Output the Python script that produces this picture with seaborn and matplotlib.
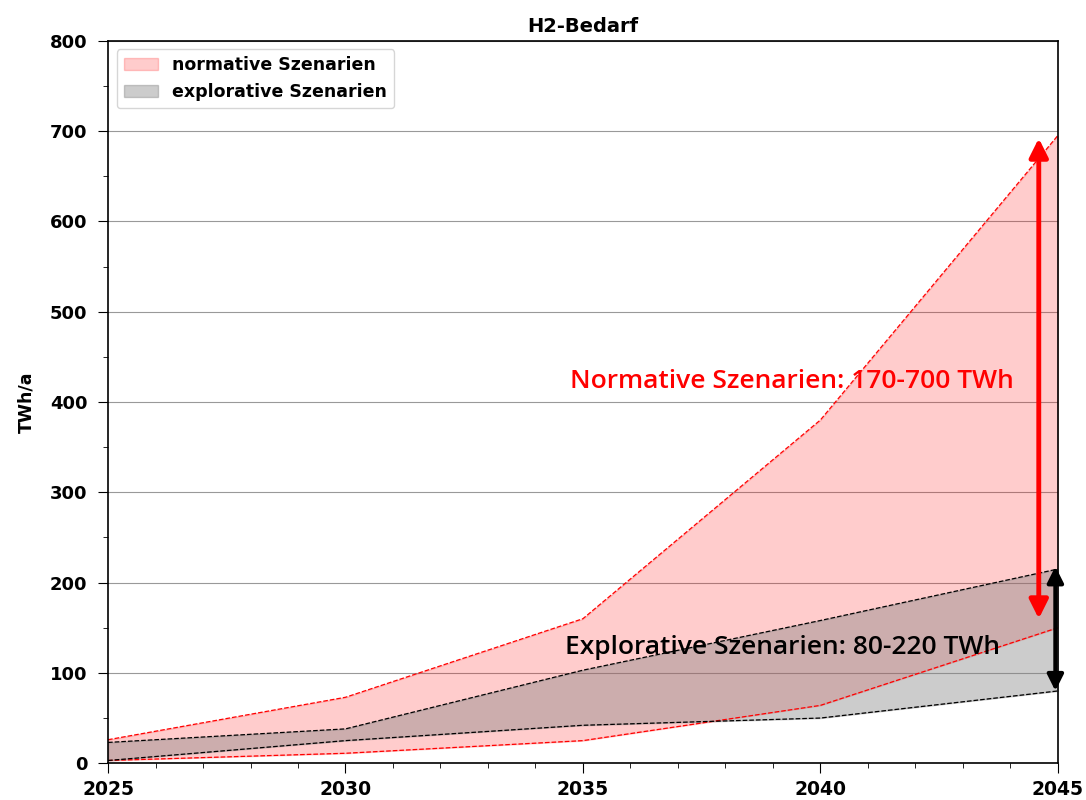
import seaborn as sns
import matplotlib.pyplot as plt
import pandas as pd

# Daten
# ------------------------------------------------------------------------------
jahre = [2025, 2030, 2035, 2040, 2045]
normativ_min = [3, 11, 25, 64, 150]
normativ_max = [26, 73, 160, 380, 695]
explorativ_min = [3, 25, 42, 50, 80]
explorativ_max = [23, 38, 103, 158, 215]

df = pd.DataFrame({"jahr": jahre,
                   "norm_min": normativ_min, "norm_max": normativ_max,
                   "expl_min": explorativ_min, "expl_max": explorativ_max})

sns.set_style("ticks")
plt.rcParams["font.family"] = ["DejaVu Sans"]
plt.rcParams.update({"text.color": "black", "axes.labelcolor": "black",
                     "xtick.color": "black", "ytick.color": "black",
                     "axes.edgecolor": "black"})

fig = plt.figure(figsize=(10.86, 8), dpi=100)
ax = fig.add_axes([0.0995, 0.046, 0.8745, 0.903])

ax.fill_between(df["jahr"], df["norm_min"], df["norm_max"],
                color="red", alpha=0.2, linewidth=1, label="normative Szenarien")
ax.fill_between(df["jahr"], df["expl_min"], df["expl_max"],
                color="grey", alpha=0.4, linewidth=1, label="explorative Szenarien")

for col in ["norm_min", "norm_max"]:
    sns.lineplot(data=df, x="jahr", y=col, color="red", linestyle="--",
                 linewidth=0.9, ax=ax)
for col in ["expl_min", "expl_max"]:
    sns.lineplot(data=df, x="jahr", y=col, color="black", linestyle="--",
                 linewidth=0.9, ax=ax)

# Pfeile für die Spannweiten
ax.annotate("", xy=(2044.6, 160), xytext=(2044.6, 692),
            arrowprops=dict(arrowstyle="<|-|>", color="red", lw=3.5,
                            mutation_scale=28, shrinkA=0, shrinkB=0))
ax.annotate("", xy=(2044.95, 80), xytext=(2044.95, 218),
            arrowprops=dict(arrowstyle="<|-|>", color="black", lw=3,
                            mutation_scale=24, shrinkA=0, shrinkB=0))

ax.text(2039.4, 423, "Normative Szenarien: 170-700 TWh", color="red",
        fontsize=19, ha="center", va="center", family="Open Sans", fontweight="semibold")
ax.text(2039.2, 128, "Explorative Szenarien: 80-220 TWh", color="black",
        fontsize=19, ha="center", va="center", family="Open Sans", fontweight="semibold")

ax.set_xlim(2025, 2045)
ax.set_ylim(0, 800)
ax.set_xticks([2025, 2030, 2035, 2040, 2045])
ax.set_xticks(range(2025, 2046), minor=True)
ax.set_yticks(range(0, 801, 100))
ax.set_yticks(range(0, 801, 50), minor=True)
ax.yaxis.grid(True, color="grey", linewidth=0.8, alpha=0.8)
ax.set_axisbelow(True)
ax.tick_params(which="major", length=7)
ax.tick_params(which="minor", length=3.5)
ax.tick_params(axis="y", which="major", pad=8)
ax.tick_params(axis="x", which="major", pad=5)

for lab in ax.get_xticklabels():
    lab.set_fontweight("bold")
    lab.set_fontsize(13.5)
for lab in ax.get_yticklabels():
    lab.set_fontweight("bold")
    lab.set_fontsize(13)

ax.set_xlabel("")
ax.set_ylabel("TWh/a", fontweight="bold", fontsize=12.5, labelpad=10)
ax.set_title("H2-Bedarf", fontweight="bold", fontsize=14)
for s in ax.spines.values():
    s.set_linewidth(1.2)

ax.legend(loc="upper left", prop={"weight": "bold", "size": 12.5})

fig.savefig("out.png", dpi=100)
